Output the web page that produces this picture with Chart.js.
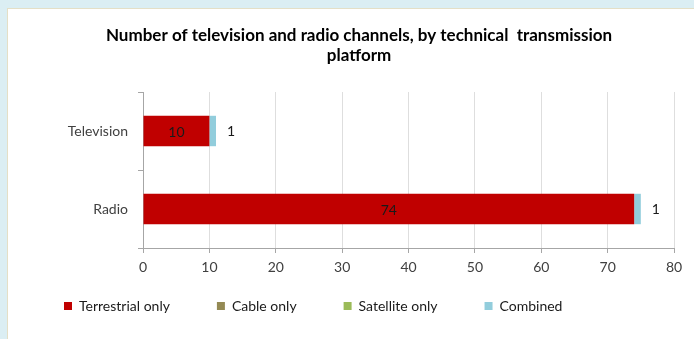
<!DOCTYPE html>
<html>
<head>
<meta charset="utf-8">
<script src="https://cdn.jsdelivr.net/npm/chart.js@4/dist/chart.umd.min.js"></script>
<style>
  html, body { margin: 0; padding: 0; width: 694px; height: 339px; overflow: hidden; background: #dbeef3; }
  #panel { position: absolute; left: 7px; top: 8px; width: 700px; height: 340px; background: #fff;
           border-top: 1px solid #e4dfc6; border-left: 1px solid #e4dfc6; box-sizing: border-box; }
  #chart { position: absolute; left: -1px; top: -1px; }
</style>
</head>
<body>
<div id="panel"><canvas id="chart" width="694" height="315"></canvas></div>
<script>
// chart data
const categories = ['Television', 'Radio'];
const terrestrialOnly = [10, 74];
const cableOnly = [0, 0];
const satelliteOnly = [0, 0];
const combined = [1, 1];
const xTicks = [0, 10, 20, 30, 40, 50, 60, 70, 80];

const FONT = 'Lato, "Open Sans", sans-serif';
const axisColor = '#a6a6a6';

// draws the value labels: inside the bar for terrestrial, to the right for combined
const valueLabels = {
  id: 'valueLabels',
  afterLayout(chart) {
    // x axis is squeezed to leave room for the legend, let its labels draw below it
    chart.scales.x.bottom = chart.height;
  },
  afterDatasetsDraw(chart) {
    const ctx = chart.ctx;
    ctx.save();
    ctx.font = '14px ' + FONT;
    ctx.fillStyle = '#1a1a1a';
    ctx.textBaseline = 'middle';
    chart.data.datasets.forEach((ds, i) => {
      const meta = chart.getDatasetMeta(i);
      meta.data.forEach((bar, j) => {
        const v = ds.data[j];
        if (!v) return;
        if (ds.label === 'Combined') {
          ctx.textAlign = 'left';
          ctx.fillText(v, bar.x + 11, bar.y);
        } else {
          ctx.textAlign = 'center';
          ctx.fillText(v, (bar.x + bar.base) / 2, bar.y + 1);
        }
      });
    });
    ctx.restore();
  }
};

new Chart(document.getElementById('chart'), {
  type: 'bar',
  data: {
    labels: categories,
    datasets: [
      { label: 'Terrestrial only', data: terrestrialOnly, backgroundColor: '#c00000' },
      { label: 'Cable only', data: cableOnly, backgroundColor: '#948a54' },
      { label: 'Satellite only', data: satelliteOnly, backgroundColor: '#9bbb59' },
      { label: 'Combined', data: combined, backgroundColor: '#92cddc' }
    ]
  },
  options: {
    indexAxis: 'y',
    responsive: false,
    animation: false,
    layout: { padding: { left: 10 } },
    datasets: { bar: { categoryPercentage: 1, barPercentage: 0.39 } },
    plugins: {
      title: {
        display: true,
        text: ['Number of television and radio channels, by technical  transmission', 'platform'],
        color: '#000',
        font: { family: FONT, size: 17, weight: 'bold', lineHeight: '20px' },
        padding: { top: 18, bottom: 26 }
      },
      legend: {
        position: 'bottom',
        align: 'start',
        labels: {
          boxWidth: 8,
          boxHeight: 8,
          padding: 47,
          color: '#1a1a1a',
          font: { family: FONT, size: 14 }
        }
      },
      tooltip: { enabled: false }
    },
    scales: {
      x: {
        stacked: true,
        min: 0,
        max: 80,
        afterBuildTicks(scale) {
          scale.ticks = xTicks.map(v => ({ value: v }));
        },
        afterFit(scale) {
          scale.height = 4;
          scale.paddingLeft = 0;
          scale.paddingRight = 27;
        },
        ticks: { color: '#404040', padding: 6, font: { family: FONT, size: 14 } },
        grid: { color: '#dedede', tickColor: axisColor, tickLength: 5 },
        border: { color: axisColor }
      },
      y: {
        stacked: true,
        afterFit(scale) {
          scale.width = 126;
          scale.paddingTop = 0;
          scale.paddingBottom = 0;
        },
        ticks: { color: '#404040', padding: 10, font: { family: FONT, size: 14 } },
        grid: { drawOnChartArea: false, offset: true, color: axisColor, tickLength: 5 },
        border: { color: axisColor }
      }
    }
  },
  plugins: [valueLabels]
});
</script>
</body>
</html>
